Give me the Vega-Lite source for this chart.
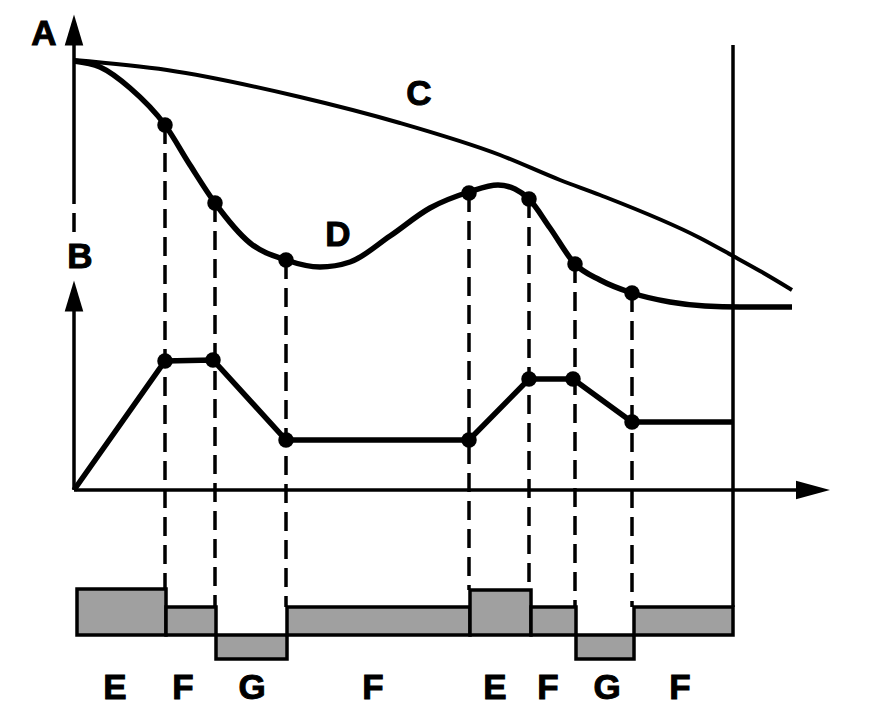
{
  "$schema": "https://vega.github.io/schema/vega-lite/v6.json",
  "width": 880,
  "height": 726,
  "autosize": "none",
  "padding": 0,
  "background": "white",
  "config": {"view": {"stroke": null}},
  "datasets": {
    "blocks": [
      {"phase": "E", "x": 77, "x2": 166, "y": 589, "y2": 635},
      {"phase": "F", "x": 166, "x2": 216, "y": 607, "y2": 635},
      {"phase": "G", "x": 216, "x2": 287, "y": 635, "y2": 659},
      {"phase": "F", "x": 287, "x2": 470, "y": 607, "y2": 635},
      {"phase": "E", "x": 470, "x2": 531, "y": 590, "y2": 635},
      {"phase": "F", "x": 531, "x2": 576, "y": 607, "y2": 635},
      {"phase": "G", "x": 576, "x2": 634, "y": 635, "y2": 659},
      {"phase": "F", "x": 634, "x2": 733, "y": 607, "y2": 635}
    ],
    "solidRules": [
      {"x": 74, "y": 45, "x2": 74, "y2": 185},
      {"x": 74, "y": 310, "x2": 74, "y2": 490},
      {"x": 74, "y": 490, "x2": 798, "y2": 490},
      {"x": 733, "y": 45, "x2": 733, "y2": 607}
    ],
    "dashedRules": [
      {"x": 74, "y": 185, "x2": 74, "y2": 234},
      {"x": 165, "y": 125, "x2": 165, "y2": 589},
      {"x": 215, "y": 203, "x2": 215, "y2": 607},
      {"x": 286, "y": 260, "x2": 286, "y2": 607},
      {"x": 469, "y": 193, "x2": 469, "y2": 590},
      {"x": 529, "y": 199, "x2": 529, "y2": 590},
      {"x": 575, "y": 264, "x2": 575, "y2": 607},
      {"x": 632, "y": 293, "x2": 632, "y2": 607}
    ],
    "curveC": [
      {"x": 74, "y": 60}, {"x": 167, "y": 70}, {"x": 300, "y": 97},
      {"x": 400, "y": 123}, {"x": 500, "y": 155}, {"x": 560, "y": 180},
      {"x": 600, "y": 195}, {"x": 700, "y": 238}, {"x": 733, "y": 256},
      {"x": 760, "y": 271}, {"x": 792, "y": 290}
    ],
    "curveD": [
      {"x": 74, "y": 61}, {"x": 100, "y": 67}, {"x": 130, "y": 88},
      {"x": 165, "y": 125}, {"x": 190, "y": 165}, {"x": 215, "y": 203},
      {"x": 250, "y": 243}, {"x": 286, "y": 260}, {"x": 320, "y": 267},
      {"x": 350, "y": 262}, {"x": 390, "y": 236}, {"x": 430, "y": 208},
      {"x": 469, "y": 192}, {"x": 498, "y": 185}, {"x": 515, "y": 189},
      {"x": 529, "y": 199}, {"x": 550, "y": 228}, {"x": 575, "y": 264},
      {"x": 600, "y": 280}, {"x": 632, "y": 293}, {"x": 670, "y": 302},
      {"x": 705, "y": 306}, {"x": 740, "y": 307}, {"x": 792, "y": 307}
    ],
    "lineB": [
      {"x": 74, "y": 490}, {"x": 165, "y": 361}, {"x": 213, "y": 360},
      {"x": 286, "y": 440}, {"x": 469, "y": 440}, {"x": 529, "y": 379},
      {"x": 573, "y": 379}, {"x": 632, "y": 422}, {"x": 733, "y": 422}
    ],
    "dots": [
      {"x": 165, "y": 125}, {"x": 215, "y": 203}, {"x": 286, "y": 260},
      {"x": 469, "y": 193}, {"x": 529, "y": 199}, {"x": 575, "y": 264},
      {"x": 632, "y": 293},
      {"x": 165, "y": 361}, {"x": 213, "y": 360}, {"x": 286, "y": 440},
      {"x": 469, "y": 440}, {"x": 529, "y": 379}, {"x": 573, "y": 379},
      {"x": 632, "y": 422}
    ],
    "upArrows": [
      {"axis": "A", "x": 74, "y": 30},
      {"axis": "B", "x": 74, "y": 296}
    ],
    "rightArrows": [
      {"axis": "t", "x": 813, "y": 490}
    ],
    "labels": [
      {"t": "A", "x": 44, "y": 45},
      {"t": "B", "x": 80, "y": 268},
      {"t": "C", "x": 419, "y": 105},
      {"t": "D", "x": 338, "y": 246},
      {"t": "E", "x": 115, "y": 699},
      {"t": "F", "x": 183, "y": 699},
      {"t": "G", "x": 252, "y": 699},
      {"t": "F", "x": 373, "y": 699},
      {"t": "E", "x": 495, "y": 699},
      {"t": "F", "x": 548, "y": 699},
      {"t": "G", "x": 607, "y": 699},
      {"t": "F", "x": 680, "y": 699}
    ]
  },
  "encoding": {
    "x": {"field": "x", "type": "quantitative", "scale": {"domain": [0, 880], "nice": false, "zero": false}, "axis": null},
    "y": {"field": "y", "type": "quantitative", "scale": {"domain": [726, 0], "nice": false, "zero": false}, "axis": null}
  },
  "layer": [
    {
      "data": {"name": "blocks"},
      "mark": {"type": "rect", "fill": "#a0a0a0", "stroke": "black", "strokeWidth": 3.5},
      "encoding": {
        "x2": {"field": "x2"},
        "y2": {"field": "y2"}
      }
    },
    {
      "data": {"name": "solidRules"},
      "mark": {"type": "rule", "stroke": "black", "strokeWidth": 3.5},
      "encoding": {"x2": {"field": "x2"}, "y2": {"field": "y2"}}
    },
    {
      "data": {"name": "dashedRules"},
      "mark": {"type": "rule", "stroke": "black", "strokeWidth": 3.5, "strokeDash": [19, 9]},
      "encoding": {"x2": {"field": "x2"}, "y2": {"field": "y2"}}
    },
    {
      "data": {"name": "curveC"},
      "mark": {"type": "line", "color": "black", "strokeWidth": 4, "interpolate": "monotone"},
      "encoding": {}
    },
    {
      "data": {"name": "curveD"},
      "mark": {"type": "line", "color": "black", "strokeWidth": 5.5, "interpolate": "monotone"},
      "encoding": {}
    },
    {
      "data": {"name": "lineB"},
      "mark": {"type": "line", "color": "black", "strokeWidth": 5.5},
      "encoding": {}
    },
    {
      "data": {"name": "dots"},
      "mark": {"type": "point", "filled": true, "color": "black", "opacity": 1, "size": 240, "shape": "circle"}
    },
    {
      "data": {"name": "upArrows"},
      "mark": {"type": "point", "filled": true, "color": "black", "opacity": 1, "size": 960, "shape": "M0,-1L0.6,1L-0.6,1Z"}
    },
    {
      "data": {"name": "rightArrows"},
      "mark": {"type": "point", "filled": true, "color": "black", "opacity": 1, "size": 1156, "shape": "M1,0L-1,-0.55L-1,0.55Z"}
    },
    {
      "data": {"name": "labels"},
      "mark": {"type": "text", "font": "Liberation Sans", "fontWeight": "bold", "fontSize": 35, "align": "center", "baseline": "alphabetic", "color": "black", "stroke": "black", "strokeWidth": 1},
      "encoding": {"text": {"field": "t", "type": "nominal"}}
    }
  ]
}
